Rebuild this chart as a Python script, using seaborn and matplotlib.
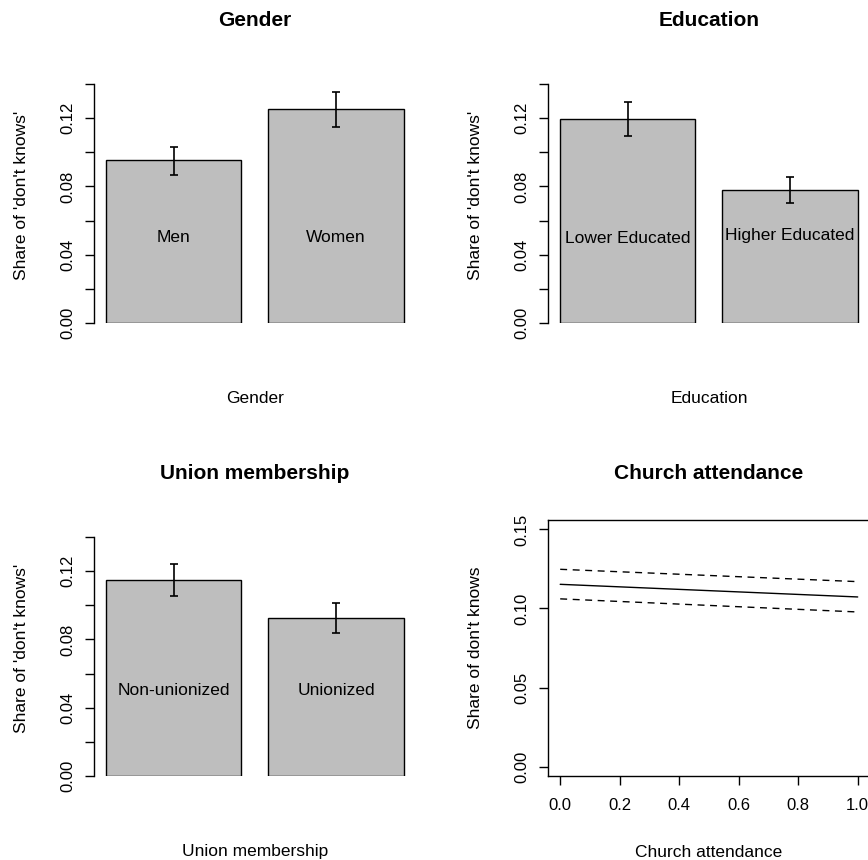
import matplotlib
matplotlib.use("Agg")
import matplotlib.pyplot as plt
import seaborn as sns
import numpy as np
import pandas as pd

# bar panels: share of "don't knows" with 95% intervals
gender_groups = ["Men", "Women"]
gender_share = [0.0954, 0.1253]
gender_lo = [0.0867, 0.1150]
gender_hi = [0.1030, 0.1354]

edu_groups = ["Lower Educated", "Higher Educated"]
edu_share = [0.1198, 0.0779]
edu_lo = [0.1097, 0.0703]
edu_hi = [0.1294, 0.0853]

union_groups = ["Non-unionized", "Unionized"]
union_share = [0.1151, 0.0926]
union_lo = [0.1055, 0.0840]
union_hi = [0.1245, 0.1014]

# church attendance: predicted share with bounds
church_x = [0.0, 1.0]
church_fit = [0.1153, 0.1073]
church_upper = [0.1248, 0.1170]
church_lower = [0.1061, 0.0978]

sns.set_theme(style="white")
plt.rcParams["font.family"] = ["Liberation Sans", "DejaVu Sans"]
for key in ["text.color", "axes.labelcolor", "xtick.color", "ytick.color",
            "axes.edgecolor"]:
    plt.rcParams[key] = "black"
plt.rcParams["axes.linewidth"] = 1.0
plt.rcParams["xtick.major.width"] = 1.0
plt.rcParams["ytick.major.width"] = 1.0

BASE = 12.5
YTICK = 12.0
XTICK = 12.0

fig = plt.figure(figsize=(8.68, 8.60), dpi=100)

W, H = 868.0, 860.0
def add_panel(left_px, bottom_px, width_px=321.3, height_px=256.0):
    return fig.add_axes([left_px / W, 1 - bottom_px / H, width_px / W, height_px / H])


def style_yticks(ax):
    ax.tick_params(axis="y", length=6.5, pad=7, labelsize=YTICK, left=True,
                   labelrotation=90)
    for lab in ax.get_yticklabels():
        lab.set_va("center")


def bar_panel(ax, groups, share, lo, hi, title, xlab, label_y):
    df = pd.DataFrame({"group": groups, "share": share})
    sns.barplot(data=df, x="group", y="share", color="#bebebe", width=1 / 1.2,
                edgecolor="black", linewidth=1.0, saturation=1, ax=ax)
    share = np.array(share)
    yerr = np.vstack([share - np.array(lo), np.array(hi) - share])
    ax.errorbar(range(len(groups)), share, yerr=yerr, fmt="none", ecolor="black",
                elinewidth=1.2, capsize=3, capthick=1.2)
    for i, g in enumerate(groups):
        ax.text(i, label_y[i], g, ha="center", va="center", fontsize=BASE)
    ax.set_xlim(-0.49, 1.49)
    ax.set_ylim(0, 0.15)
    ax.set_xticks([])
    ax.set_yticks(np.arange(0, 0.141, 0.02))
    ax.set_yticklabels(["0.00", "", "0.04", "", "0.08", "", "0.12", ""])
    for s in ["top", "right", "bottom"]:
        ax.spines[s].set_visible(False)
    ax.spines["left"].set_bounds(0, 0.14)
    style_yticks(ax)
    ax.set_xlabel("")
    ax.set_ylabel("")
    ax.text(-0.228, 0.5, "Share of 'don't knows'", rotation=90, ha="center",
            va="center", transform=ax.transAxes, fontsize=BASE)
    ax.text(0.5, -0.293, xlab, ha="center", va="center", transform=ax.transAxes,
            fontsize=BASE)
    ax.text(0.5, 1.18, title, ha="center", va="center", transform=ax.transAxes,
            fontsize=BASE * 1.2, fontweight="bold")


ax1 = add_panel(94.3, 323)
bar_panel(ax1, gender_groups, gender_share, gender_lo, gender_hi,
          "Gender", "Gender", [0.05, 0.05])

ax2 = add_panel(548.3, 323)
bar_panel(ax2, edu_groups, edu_share, edu_lo, edu_hi,
          "Education", "Education", [0.0496, 0.0512])

ax3 = add_panel(94.3, 776)
bar_panel(ax3, union_groups, union_share, union_lo, union_hi,
          "Union membership", "Union membership", [0.05, 0.05])

ax4 = add_panel(548.3, 776)
church = pd.DataFrame({"x": church_x, "fit": church_fit,
                       "upper": church_upper, "lower": church_lower})
sns.lineplot(data=church, x="x", y="fit", color="black", linewidth=1.0, ax=ax4)
sns.lineplot(data=church, x="x", y="upper", color="black", linewidth=1.0,
             linestyle=(0, (5, 4)), ax=ax4)
sns.lineplot(data=church, x="x", y="lower", color="black", linewidth=1.0,
             linestyle=(0, (5, 4)), ax=ax4)
ax4.set_xlim(-0.04, 1.04)
ax4.set_ylim(-0.006, 0.156)
ax4.set_xticks(np.arange(0, 1.01, 0.2))
ax4.set_xticklabels(["0.0", "0.2", "0.4", "0.6", "0.8", "1.0"])
ax4.set_yticks([0, 0.05, 0.10, 0.15])
ax4.set_yticklabels(["0.00", "0.05", "0.10", "0.15"])
for s in ax4.spines.values():
    s.set_visible(True)
    s.set_color("black")
ax4.tick_params(axis="x", length=6.5, pad=9, labelsize=XTICK, bottom=True)
style_yticks(ax4)
ax4.set_xlabel("")
ax4.set_ylabel("")
ax4.text(-0.228, 0.5, "Share of don't knows", rotation=90, ha="center",
         va="center", transform=ax4.transAxes, fontsize=BASE)
ax4.text(0.5, -0.30, "Church attendance", ha="center", va="center",
         transform=ax4.transAxes, fontsize=BASE)
ax4.text(0.5, 1.18, "Church attendance", ha="center", va="center",
         transform=ax4.transAxes, fontsize=BASE * 1.2, fontweight="bold")

fig.savefig("out.png", dpi=100)
